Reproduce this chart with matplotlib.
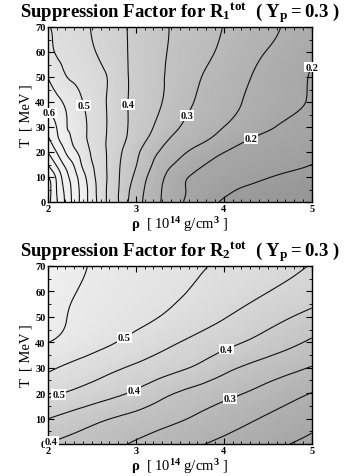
import numpy as np
import matplotlib
matplotlib.use('Agg')
import matplotlib.pyplot as plt
import matplotlib.tri as mtri
from matplotlib.colors import LinearSegmentedColormap, Normalize
from matplotlib.ticker import MultipleLocator

plt.rcParams['font.family'] = ['Liberation Serif', 'DejaVu Serif']
plt.rcParams['font.weight'] = 'bold'
plt.rcParams['mathtext.fontset'] = 'custom'
plt.rcParams['mathtext.rm'] = 'Liberation Serif:bold'
plt.rcParams['mathtext.bf'] = 'Liberation Serif:bold'
plt.rcParams['mathtext.it'] = 'Liberation Serif:bold'
plt.rcParams['mathtext.default'] = 'bf'

# ---------------- data ----------------
# Panel 1: suppression factor for R1 (rows: T, columns: rho)
rho1 = [2.0, 2.1, 2.2, 2.3, 2.4, 2.5, 2.6, 2.7, 2.8, 2.9, 3.0, 3.2, 3.4, 3.6, 3.8, 4.0, 4.3, 4.6, 5.0]
T1 = [0, 5, 10, 15, 20, 25, 30, 40, 50, 60, 70]
S1 = [
    [0.820, 0.756, 0.694, 0.633, 0.578, 0.527, 0.480, 0.437, 0.403, 0.355, 0.322, 0.269, 0.226, 0.191, 0.165, 0.146, 0.135, 0.125, 0.112],
    [0.830, 0.750, 0.688, 0.630, 0.578, 0.525, 0.478, 0.438, 0.403, 0.362, 0.328, 0.272, 0.229, 0.196, 0.178, 0.161, 0.142, 0.130, 0.118],
    [0.805, 0.742, 0.672, 0.620, 0.567, 0.517, 0.477, 0.440, 0.405, 0.372, 0.340, 0.280, 0.235, 0.200, 0.190, 0.179, 0.163, 0.147, 0.137],
    [0.750, 0.695, 0.640, 0.596, 0.541, 0.504, 0.472, 0.440, 0.407, 0.379, 0.353, 0.296, 0.254, 0.225, 0.199, 0.191, 0.178, 0.166, 0.150],
    [0.700, 0.650, 0.600, 0.561, 0.527, 0.495, 0.468, 0.441, 0.412, 0.386, 0.362, 0.312, 0.277, 0.248, 0.225, 0.201, 0.190, 0.180, 0.167],
    [0.660, 0.614, 0.573, 0.539, 0.511, 0.488, 0.466, 0.441, 0.419, 0.398, 0.376, 0.335, 0.296, 0.274, 0.253, 0.231, 0.199, 0.190, 0.178],
    [0.630, 0.600, 0.556, 0.536, 0.510, 0.489, 0.466, 0.444, 0.423, 0.402, 0.384, 0.350, 0.315, 0.289, 0.270, 0.250, 0.224, 0.199, 0.185],
    [0.585, 0.565, 0.543, 0.522, 0.500, 0.481, 0.462, 0.444, 0.423, 0.402, 0.389, 0.363, 0.336, 0.307, 0.287, 0.269, 0.243, 0.221, 0.196],
    [0.550, 0.525, 0.503, 0.492, 0.481, 0.470, 0.458, 0.446, 0.423, 0.402, 0.394, 0.366, 0.343, 0.318, 0.295, 0.278, 0.251, 0.227, 0.197],
    [0.520, 0.496, 0.486, 0.476, 0.466, 0.455, 0.444, 0.432, 0.415, 0.401, 0.390, 0.368, 0.346, 0.328, 0.309, 0.290, 0.262, 0.242, 0.210],
    [0.503, 0.491, 0.480, 0.469, 0.458, 0.448, 0.435, 0.423, 0.412, 0.400, 0.390, 0.369, 0.348, 0.332, 0.315, 0.299, 0.275, 0.253, 0.227],
]
levels1 = [0.15, 0.20, 0.25, 0.30, 0.35, 0.40, 0.45, 0.50, 0.55, 0.60, 0.65, 0.70, 0.75, 0.80]

# Panel 2: suppression factor for R2
rho2 = [2.0, 2.25, 2.5, 2.75, 3.0, 3.25, 3.5, 3.75, 4.0, 4.25, 4.5, 4.75, 5.0]
T2 = [0, 10, 20, 30, 40, 50, 60, 70]
S2 = [
    [0.348, 0.336, 0.322, 0.309, 0.295, 0.281, 0.266, 0.252, 0.239, 0.226, 0.213, 0.200, 0.190],
    [0.401, 0.383, 0.365, 0.348, 0.334, 0.319, 0.305, 0.290, 0.274, 0.259, 0.244, 0.230, 0.215],
    [0.461, 0.445, 0.428, 0.411, 0.392, 0.368, 0.346, 0.330, 0.314, 0.299, 0.282, 0.265, 0.249],
    [0.508, 0.491, 0.475, 0.458, 0.442, 0.425, 0.408, 0.388, 0.364, 0.344, 0.328, 0.313, 0.297],
    [0.551, 0.535, 0.518, 0.502, 0.485, 0.467, 0.450, 0.433, 0.415, 0.398, 0.379, 0.361, 0.343],
    [0.572, 0.548, 0.536, 0.524, 0.513, 0.501, 0.485, 0.469, 0.453, 0.436, 0.419, 0.402, 0.385],
    [0.580, 0.555, 0.543, 0.533, 0.523, 0.513, 0.504, 0.491, 0.478, 0.465, 0.451, 0.438, 0.425],
    [0.590, 0.567, 0.547, 0.538, 0.530, 0.521, 0.512, 0.503, 0.493, 0.482, 0.471, 0.459, 0.448],
]
levels2 = [0.20, 0.25, 0.30, 0.35, 0.40, 0.45, 0.50, 0.55]

xticks = [2, 3, 4, 5]
yticks = [0, 10, 20, 30, 40, 50, 60, 70]

# label anchor points (data coords)
label_pos1 = [(2.03, 36), (2.45, 39), (2.91, 39), (3.56, 35), (4.30, 26), (4.95, 55.6)]
label_pos2 = [(2.86, 42.5), (4.04, 36.6), (2.12, 20), (2.99, 20.5), (4.07, 18), (2.04, 0.8)]

titles = [r"Suppression Factor for $R_1{}^{tot}$  ( $Y_p = 0.3$ )",
          r"Suppression Factor for $R_2{}^{tot}$  ( $Y_p = 0.3$ )"]


def smooth_field(rho, T, Z, tscale=35.2):
    R, TT = np.meshgrid(np.asarray(rho, float), np.asarray(T, float))
    x = R.ravel()
    y = TT.ravel() / tscale
    nr, nt = len(rho), len(T)
    tris = []
    for j in range(nt - 1):
        for i in range(nr - 1):
            a = j * nr + i
            b = a + 1
            c = a + nr
            d = c + 1
            tris.append([a, b, d])
            tris.append([a, d, c])
    tri = mtri.Triangulation(x, y, np.array(tris))
    refiner = mtri.UniformTriRefiner(tri)
    tri_f, z_f = refiner.refine_field(np.asarray(Z, float).ravel(), subdiv=3)
    tri_out = mtri.Triangulation(tri_f.x, tri_f.y * tscale, tri_f.triangles)
    return tri_out, z_f


cmap = LinearSegmentedColormap.from_list('g', ['#818181', '#f0f0f0'])
norm = Normalize(vmin=0.0, vmax=0.58, clip=True)

fig = plt.figure(figsize=(3.54, 4.77), dpi=100)
W, H = 354.0, 477.0

panels = [
    dict(rho=rho1, T=T1, S=S1, levels=levels1, labels=label_pos1, title=titles[0],
         box=(47.7, 28.0, 311.7, 203.0), title_y=17.0),
    dict(rho=rho2, T=T2, S=S2, levels=levels2, labels=label_pos2, title=titles[1],
         box=(47.7, 267.0, 311.7, 445.0), title_y=256.5),
]

for p in panels:
    x0, y0, x1, y1 = p['box']
    ax = fig.add_axes([x0 / W, 1 - y1 / H, (x1 - x0) / W, (y1 - y0) / H])
    tri, z = smooth_field(p['rho'], p['T'], p['S'])
    ax.tripcolor(tri, z, shading='gouraud', cmap=cmap, norm=norm, rasterized=True)
    cs = ax.tricontour(tri, z, levels=p['levels'], colors='#101010', linewidths=0.8)
    texts = ax.clabel(cs, manual=p['labels'], inline=False,
                      fmt=lambda v: f"{v + 1e-9:.1f}", fontsize=7.5)
    for t in texts:
        t.set_rotation(0)
        t.set_fontweight('bold')
        t.set_bbox(dict(boxstyle='square,pad=0.08', fc='white', ec='none'))
        t.set_clip_on(False)
    ax.set_xlim(2, 5)
    ax.set_ylim(0, 70)
    ax.set_xticks(xticks)
    ax.set_yticks(yticks)
    ax.xaxis.set_minor_locator(MultipleLocator(0.1))
    ax.yaxis.set_minor_locator(MultipleLocator(5))
    ax.tick_params(which='both', direction='in', top=True, right=True, labelsize=7.5, pad=1.5)
    ax.tick_params(which='major', length=4, width=0.8)
    ax.tick_params(which='minor', length=2, width=0.6)
    for lab in ax.get_xticklabels() + ax.get_yticklabels():
        lab.set_fontweight('bold')
    for s in ax.spines.values():
        s.set_linewidth(1.0)
    ax.set_xlabel(r"$\rho$  [ 10$^{14}$ g/cm$^{3}$ ]", fontsize=10.5, labelpad=1)
    ax.set_ylabel("T  [ MeV ]", fontsize=10.5, labelpad=2)
    fig.text(179.7 / W, 1 - p['title_y'] / H, p['title'], ha='center', va='baseline',
             fontsize=13.5, fontweight='bold')

fig.savefig('out.png', dpi=100)
